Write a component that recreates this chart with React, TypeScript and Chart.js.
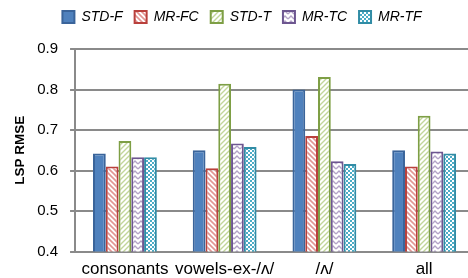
import React, { useEffect, useRef } from "react";
import { Chart, registerables } from "chart.js";

Chart.register(...registerables);

const categories = ["consonants", "vowels-ex-/ʌ/", "/ʌ/", "all"];
const seriesNames = ["STD-F", "MR-FC", "STD-T", "MR-TC", "MR-TF"];
const stdF = [0.642, 0.65, 0.8, 0.65];
const mrFC = [0.61, 0.606, 0.685, 0.61];
const stdT = [0.673, 0.814, 0.831, 0.735];
const mrTC = [0.633, 0.667, 0.623, 0.647];
const mrTF = [0.633, 0.658, 0.616, 0.642];
const yTicks = [0.4, 0.5, 0.6, 0.7, 0.8, 0.9];

function makeTile(w: number, h: number, draw: (c: CanvasRenderingContext2D) => void) {
  const cv = document.createElement("canvas");
  cv.width = w;
  cv.height = h;
  const c = cv.getContext("2d")!;
  draw(c);
  const main = document.createElement("canvas").getContext("2d")!;
  return main.createPattern(cv, "repeat") as CanvasPattern;
}

function patterns() {
  const redStripe = makeTile(5, 5, (c) => {
    c.fillStyle = "#ffffff";
    c.fillRect(0, 0, 5, 5);
    c.strokeStyle = "#E39593";
    c.lineWidth = 1.6;
    c.beginPath();
    c.moveTo(-1, -1); c.lineTo(6, 6);
    c.moveTo(-6, -1); c.lineTo(1, 6);
    c.moveTo(4, -1); c.lineTo(11, 6);
    c.stroke();
  });
  const greenStripe = makeTile(5, 5, (c) => {
    c.fillStyle = "#ffffff";
    c.fillRect(0, 0, 5, 5);
    c.strokeStyle = "#C2D69A";
    c.lineWidth = 1.4;
    c.beginPath();
    c.moveTo(-1, 6); c.lineTo(6, -1);
    c.moveTo(-6, 6); c.lineTo(1, -1);
    c.moveTo(4, 6); c.lineTo(11, -1);
    c.stroke();
  });
  const purpleZig = makeTile(6, 5, (c) => {
    c.fillStyle = "#ffffff";
    c.fillRect(0, 0, 6, 5);
    c.strokeStyle = "#B3A2C7";
    c.lineWidth = 1.4;
    c.beginPath();
    c.moveTo(0, 4); c.lineTo(3, 1); c.lineTo(6, 4);
    c.stroke();
  });
  const tealCheck = makeTile(4, 4, (c) => {
    c.fillStyle = "#4BACC6";
    c.fillRect(0, 0, 4, 4);
    c.fillStyle = "#ffffff";
    c.fillRect(0, 0, 2, 2);
    c.fillRect(2, 2, 2, 2);
  });
  return { redStripe, greenStripe, purpleZig, tealCheck };
}

const legendSpacer = {
  id: "legendSpacer",
  beforeInit(chart: any) {
    const lg = chart.legend;
    if (!lg) return;
    const orig = lg.fit;
    lg.fit = function () {
      orig.call(this);
      this.height = 51;
    };
  },
  afterLayout(chart: any) {
    const lg = chart.legend;
    if (!lg) return;
    lg.left += 8;
    lg.right += 8;
  },
};

export default function App() {
  const ref = useRef<HTMLCanvasElement>(null);
  useEffect(() => {
    const p = patterns();
    const fills = ["#4F81BD", p.redStripe, p.greenStripe, p.purpleZig, p.tealCheck];
    const borders = ["#3A649A", "#B9403C", "#7E9F45", "#6D5690", "#318CA5"];
    const values = [stdF, mrFC, stdT, mrTC, mrTF];
    const font = "'Liberation Sans', Arial, sans-serif";
    const chart = new Chart(ref.current!, {
      type: "bar",
      data: {
        labels: categories,
        datasets: seriesNames.map((name, i) => ({
          label: name,
          data: values[i],
          backgroundColor: fills[i] as any,
          borderColor: borders[i],
          borderWidth: 2,
          borderSkipped: "bottom",
          categoryPercentage: 0.64,
          barPercentage: 1,
        })),
      },
      plugins: [legendSpacer],
      options: {
        animation: false,
        responsive: false,
        maintainAspectRatio: false,
        layout: { padding: { left: -6, right: 0, top: -2, bottom: -10 } },
        plugins: {
          legend: {
            position: "top",
            labels: {
              boxWidth: 12,
              boxHeight: 12,
              padding: 12,
              color: "#000",
              font: { family: font, size: 14, style: "italic" },
            },
          },
          tooltip: { enabled: false },
        },
        scales: {
          x: {
            grid: { display: false, drawTicks: false, tickLength: 0 },
            border: { display: true, color: "#8A8A8A", width: 2 },
            ticks: {
              color: "#000",
              font: { family: font, size: 17 },
              maxRotation: 0,
              autoSkip: false,
              padding: 8,
            },
          },
          y: {
            min: 0.4,
            max: 0.9,
            afterBuildTicks: (axis: any) => {
              axis.ticks = yTicks.map((v) => ({ value: v }));
            },
            grid: { color: "#8A8A8A", lineWidth: 2, tickLength: 5, drawTicks: true },
            border: { display: true, color: "#8A8A8A", width: 2 },
            ticks: {
              color: "#000",
              font: { family: font, size: 15 },
              padding: 12,
              callback: (v: any) => Number(v).toFixed(1),
            },
            title: {
              display: true,
              text: "LSP RMSE",
              color: "#000",
              font: { family: font, size: 13.5, weight: "bold" },
              padding: { top: 18, bottom: -3 },
            },
          },
        },
      },
    });
    return () => chart.destroy();
  }, []);
  return (
    <div style={{ position: "absolute", left: 0, top: 0, width: 468, height: 278, overflow: "hidden", background: "#fff" }}>
      <canvas ref={ref} width={474} height={278} style={{ display: "block", width: 474, height: 278 }} />
    </div>
  );
}
